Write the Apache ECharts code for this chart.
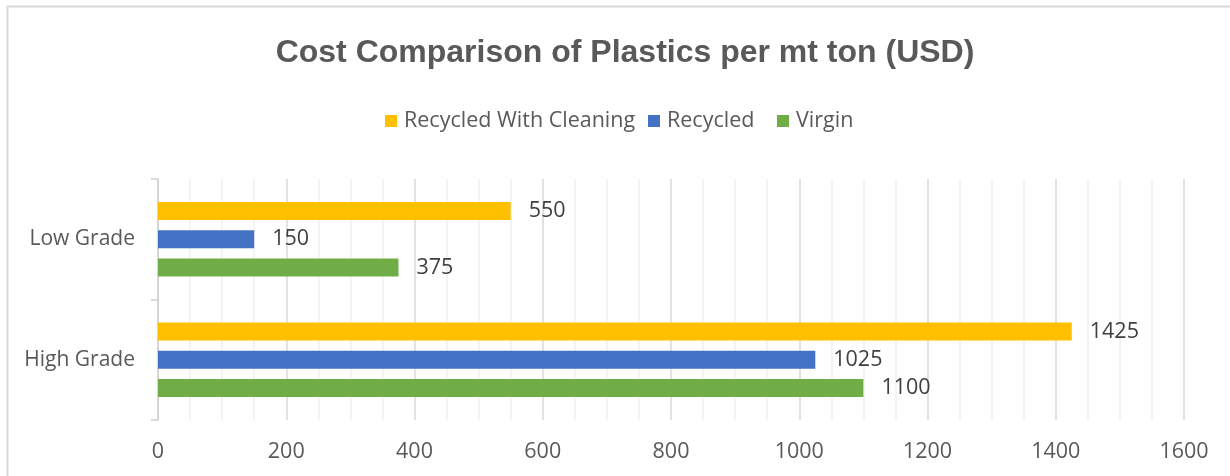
<!DOCTYPE html>
<html>
<head>
<meta charset="utf-8">
<script src="https://cdn.jsdelivr.net/npm/echarts@6/dist/echarts.min.js"></script>
<style>
  html, body { margin: 0; padding: 0; background: #ffffff; }
  #chart { width: 1230px; height: 476px; }
</style>
</head>
<body>
<div id="chart"></div>
<script>
// Cost per metric ton (USD) by grade
const categories = ['High Grade', 'Low Grade'];
const recycledWithCleaning = [1425, 550];
const recycled = [1025, 150];
const virgin = [1100, 375];
const xTicks = [0, 200, 400, 600, 800, 1000, 1200, 1400, 1600];
const seriesNames = ['Recycled With Cleaning', 'Recycled', 'Virgin'];

const TEXT = '#595959';
const FONT = '"Open Sans", "Noto Sans", sans-serif';

const chart = echarts.init(document.getElementById('chart'), null, { renderer: 'canvas' });

const labelStyle = {
  show: true,
  position: 'right',
  distance: 18,
  color: '#404040',
  fontFamily: FONT,
  fontSize: 21.5
};

function barSeries(name, data, color) {
  return {
    name: name,
    type: 'bar',
    data: data,
    barGap: '55%',
    barCategoryGap: '38%',
    itemStyle: { color: color },
    label: labelStyle,
    emphasis: { disabled: true }
  };
}

// one legend entry per component so each can sit at its own offset
const legendLefts = [380, 643, 772];
const legends = seriesNames.map(function (name, i) {
  return {
    data: [name],
    left: legendLefts[i],
    top: 105,
    icon: 'rect',
    itemWidth: 12,
    itemHeight: 12,
    selectedMode: false,
    textStyle: { fontFamily: FONT, fontSize: 21.5, color: TEXT, padding: [0, 0, 0, 2] }
  };
});

chart.setOption({
  animation: false,
  textStyle: { fontFamily: FONT },
  graphic: [{
    type: 'rect',
    shape: { x: 7.5, y: 6.5, width: 1300, height: 600 },
    style: { fill: 'none', stroke: '#d9d9d9', lineWidth: 2 },
    silent: true
  }],
  title: {
    text: 'Cost Comparison of Plastics per mt ton (USD)',
    left: 620,
    top: 32,
    textAlign: 'center',
    textStyle: {
      fontFamily: '"Liberation Sans", Arial, sans-serif',
      fontWeight: 'bold',
      fontSize: 32,
      color: TEXT
    }
  },
  legend: legends,
  grid: {
    left: 158,
    right: 46,
    top: 179,
    bottom: 56,
    containLabel: false
  },
  xAxis: {
    type: 'value',
    min: 0,
    max: 1600,
    interval: 200,
    axisLine: { show: false },
    axisTick: { show: false },
    axisLabel: {
      color: TEXT,
      fontFamily: FONT,
      fontSize: 21.5,
      margin: 21,
      formatter: function (v) { return xTicks.indexOf(v) >= 0 ? String(v) : ''; }
    },
    splitLine: { show: true, lineStyle: { color: '#d9d9d9', width: 1.5 } },
    minorTick: { show: false, splitNumber: 4 },
    minorSplitLine: { show: true, lineStyle: { color: '#efefef', width: 1.5 } }
  },
  yAxis: {
    type: 'category',
    data: categories,
    axisLine: { show: true, lineStyle: { color: '#d0d0d0', width: 1.5 } },
    axisTick: { show: true, length: 7, lineStyle: { color: '#d0d0d0', width: 1.5 } },
    axisLabel: {
      color: TEXT,
      fontFamily: FONT,
      fontSize: 21,
      margin: 23
    },
    splitLine: { show: false }
  },
  series: [
    barSeries(seriesNames[0], recycledWithCleaning, '#FFC000'),
    barSeries(seriesNames[1], recycled, '#4472C4'),
    barSeries(seriesNames[2], virgin, '#70AD47')
  ]
});
</script>
</body>
</html>
